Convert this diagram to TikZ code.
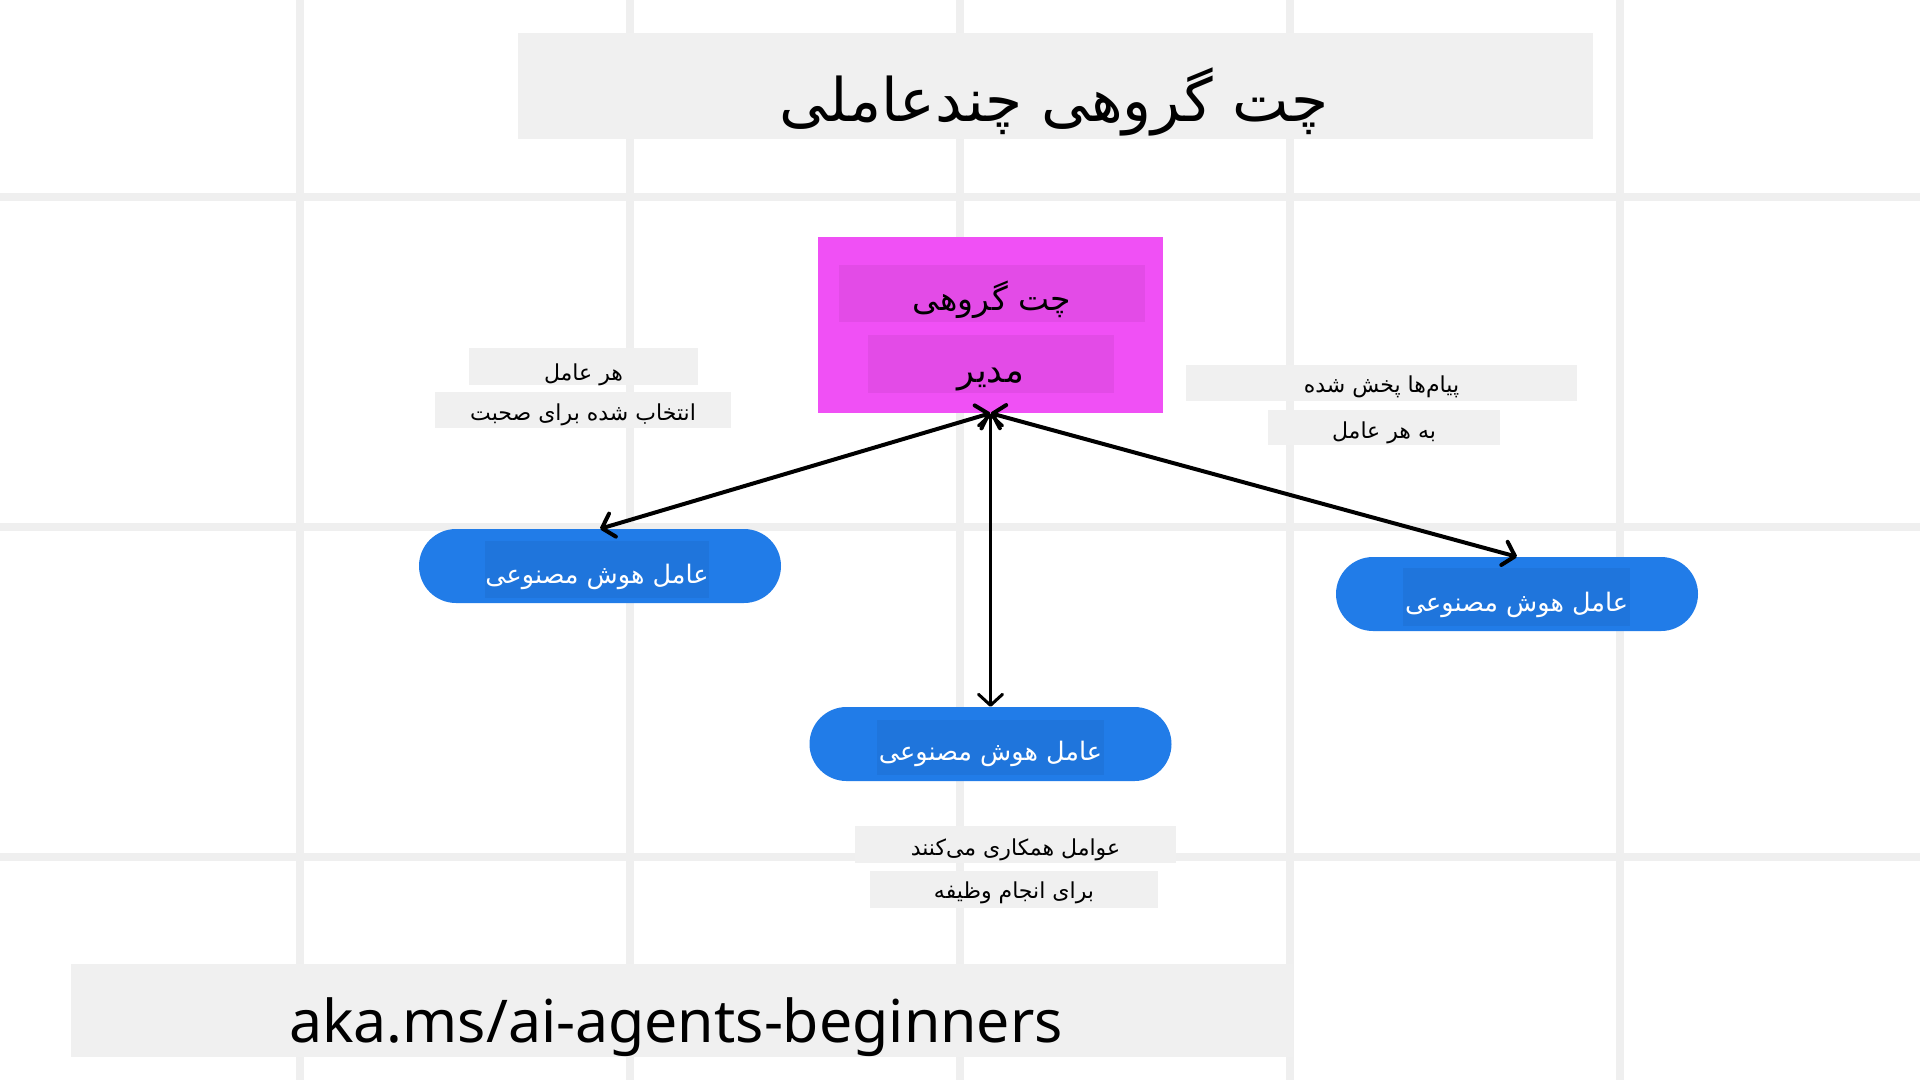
\documentclass[tikz,border=0pt]{standalone}
\usepackage{fontspec}
\setmainfont{Noto Sans}
\newfontfamily\farsi[Script=Arabic]{DejaVu Sans}
\TeXXeTstate=1
\usetikzlibrary{arrows.meta}
\definecolor{gridgray}{HTML}{EFEFEF}
\definecolor{boxgray}{HTML}{F0F0F0}
\definecolor{mgrpink}{HTML}{F050F5}
\definecolor{mgrinner}{HTML}{E34BE7}
\definecolor{agentblue}{HTML}{217CE8}
\definecolor{agentinner}{HTML}{1F75DC}
\tikzset{
	lbl/.style={fill=boxgray, inner sep=0pt, text depth=8pt, text height=29pt, font=\farsi\fontsize{22}{26}\selectfont},
	mgrtxt/.style={fill=mgrinner, inner sep=0pt, text depth=12pt, text height=45pt, font=\farsi\fontsize{33}{38}\selectfont},
	agent/.style={fill=agentblue, rounded corners=37pt, minimum width=362pt, minimum height=74pt, inner sep=0pt},
	agenttxt/.style={fill=agentinner, text=white, minimum width=222pt, text depth=15pt, text height=42pt, inner sep=0pt, font=\farsi\fontsize{25.5}{30}\selectfont},
	link/.style={line width=4pt, {Straight Barb[round,length=11pt,width=24pt]}-{Straight Barb[round,length=11pt,width=24pt]}}
}

\begin{document}
\begin{tikzpicture}[x=1pt,y=-1pt]
	\useasboundingbox[fill=white] (0,0) rectangle (1920,1080);
	% grid
	\draw[gridgray, line width=8pt] (300,0) -- (300,1080);
	\draw[gridgray, line width=8pt] (630,0) -- (630,1080);
	\draw[gridgray, line width=8pt] (960,0) -- (960,1080);
	\draw[gridgray, line width=8pt] (1290,0) -- (1290,1080);
	\draw[gridgray, line width=8pt] (1620,0) -- (1620,1080);
	\draw[gridgray, line width=8pt] (0,197) -- (1920,197);
	\draw[gridgray, line width=8pt] (0,527) -- (1920,527);
	\draw[gridgray, line width=8pt] (0,857) -- (1920,857);
	% title
	\node[fill=boxgray, minimum width=1075pt, minimum height=106pt, inner sep=0pt] (title) at (1055.5,86) {};
	\node[font=\farsi\fontsize{60}{66}\selectfont] (titletxt) at (1054,102) {\beginR چت گروهی چندعاملی\endR};
	% manager
	\node[fill=mgrpink, minimum width=345pt, minimum height=176pt, inner sep=0pt] (mgr) at (990.5,325) {};
	\node[mgrtxt, minimum width=306pt] (mgr1) at (992,293.5) {\beginR چت گروهی\endR};
	\node[mgrtxt, minimum width=246pt, text height=47pt, text depth=11pt, font=\farsi\fontsize{35}{40}\selectfont] (mgr2) at (991,364) {\beginR مدیر\endR};
	% agents
	\node[agent] (agentL) at (600,566) {};
	\node[agenttxt] (agentLtxt) at (597,569.5) {\beginR عامل هوش مصنوعی\endR};
	\node[agent] (agentR) at (1517,594) {};
	\node[agenttxt, minimum width=227pt, text height=43pt] (agentRtxt) at (1516.5,597) {\beginR عامل هوش مصنوعی\endR};
	\node[agent] (agentB) at (990.5,744) {};
	\node[agenttxt, minimum width=227pt, text height=40pt] (agentBtxt) at (990.5,747.5) {\beginR عامل هوش مصنوعی\endR};
	% labels
	\node[lbl, minimum width=229pt, text height=32pt, text depth=5pt] (lblL1) at (583.5,366.5) {\beginR هر عامل\endR};
	\node[lbl, minimum width=296pt, text height=28pt] (lblL2) at (583,410) {\beginR انتخاب شده برای صحبت\endR};
	\node[lbl, minimum width=391pt, text height=27pt, text depth=9pt] (lblR1) at (1381.5,383) {\beginR پیام‌ها پخش شده\endR};
	\node[lbl, minimum width=232pt, text height=28pt, text depth=7pt] (lblR2) at (1384,427.5) {\beginR به هر عامل\endR};
	\node[lbl, minimum width=321pt] (lblB1) at (1015.5,844.5) {\beginR عوامل همکاری می‌کنند\endR};
	\node[lbl, minimum width=288pt, text height=27pt, text depth=10pt] (lblB2) at (1014,889.5) {\beginR برای انجام وظیفه\endR};
	% links
	\draw[link] (mgr.south) -- (agentL.north);
	\draw[link] (mgr.south) -- (agentR.north);
	\draw[link, line width=3pt] (mgr.south) -- (agentB.north);
	% footer
	\node[fill=boxgray, minimum width=1222pt, minimum height=93pt, inner sep=0pt] (foot) at (682,1010.5) {};
	\node[font=\fontsize{59}{65}\selectfont] (foottxt) at (676,1027) {aka.ms/ai-agents-beginners};
\end{tikzpicture}
\end{document}
